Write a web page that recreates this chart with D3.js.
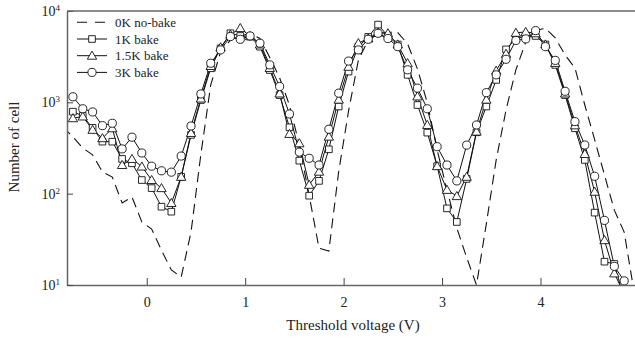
<!DOCTYPE html>
<html><head><meta charset="utf-8">
<script src="https://cdn.jsdelivr.net/npm/d3@7"></script>
<style>body{margin:0;background:#fff}svg{display:block}text{font-family:"Liberation Serif","Times New Roman",serif;fill:#222}</style>
</head><body><svg id="c" width="635" height="345"></svg>
<script>
// threshold voltage grid (V) for measured series
const voltage = [-0.75,-0.65,-0.55,-0.45,-0.35,-0.25,-0.15,-0.05,0.05,0.15,0.25,0.35,0.45,0.55,0.65,0.75,0.85,0.95,1.05,1.15,1.25,1.35,1.45,1.55,1.65,1.75,1.85,1.95,2.05,2.15,2.25,2.35,2.45,2.55,2.65,2.75,2.85,2.95,3.05,3.15,3.25,3.35,3.45,3.55,3.65,3.75,3.85,3.95,4.05,4.15,4.25,4.35,4.45,4.55,4.65,4.75,4.85];
// dashed series uses its own grid (extends slightly past both axes)
const voltage0K = [-0.85,-0.75,-0.65,-0.55,-0.45,-0.35,-0.25,-0.15,-0.05,0.05,0.15,0.25,0.35,0.45,0.55,0.65,0.75,0.85,0.95,1.05,1.15,1.25,1.35,1.45,1.55,1.65,1.75,1.85,1.95,2.05,2.15,2.25,2.35,2.45,2.55,2.65,2.75,2.85,2.95,3.05,3.15,3.25,3.35,3.45,3.55,3.65,3.75,3.85,3.95,4.05,4.15,4.25,4.35,4.45,4.55,4.65,4.75,4.85,4.95];
const cells0K = [537,418,316,266,173,152,79,92,49,41,24,14.6,12.2,38,270,1550,3550,4800,5300,5700,5000,3100,1850,930,340,96,25.3,23.6,175,800,2900,4800,5600,5900,5800,4370,2320,990,301,110,42,20,10,47,234,826,2270,4560,6150,6450,5070,3300,2380,935,390,160,66,38,8.5];
const cells1K = [790,710,525,371,371,240,215,141,115,72,63.5,153,440,1060,2360,3900,5710,5330,5250,4070,2260,1200,533,230,95,138,306,900,2170,4070,5200,7100,5300,4300,2000,935,466,200,69,49,145,470,900,1760,3800,5000,5300,5330,4300,2570,1200,520,234,62,18,17,7];
const cells15K = [670,700,500,405,520,206,240,198,141,115,79,153,462,1100,2500,4000,5500,6500,5300,4300,2380,1250,451,356,125,174,421,1070,2450,4440,5000,5800,5700,4300,2680,1160,565,200,110,94,153,478,1070,2220,3400,5770,5900,5700,4300,2700,1250,560,272,105,31,13.4,8];
const cells3K = [1150,850,785,556,590,309,415,279,200,178,172,258,550,1236,2680,3750,5250,4900,5330,4440,2570,1490,746,285,244,206,507,1260,2830,3750,4900,5700,5000,4070,2270,1430,850,327,206,138,340,565,1277,2000,2960,4760,4950,6100,4070,2880,1320,615,341,155,51,16,11.1];
const seriesNames = ["0K no-bake","1K bake","1.5K bake","3K bake"];
const xTicks = [0,1,2,3,4];
const yTicks = [10,100,1000,10000];
const yTickExp = ["1","2","3","4"];

const svg = d3.select("#c");
const L = 67, R = 635, T = 11, B = 285;
const x = d3.scaleLinear().domain([-0.81, 4.96]).range([L, R]);
const y = d3.scaleLog().domain([10, 10000]).range([B, T]);

svg.append("defs").append("clipPath").attr("id","plot")
  .append("rect").attr("x",L).attr("y",T).attr("width",R-L).attr("height",B-T);

const line = d3.line().x(d=>x(d[0])).y(d=>y(d[1]));
const g = svg.append("g").attr("clip-path","url(#plot)");

const series = [
  {name: seriesNames[0], xs: voltage0K, ys: cells0K, marker: null, dash: "10,6"},
  {name: seriesNames[1], xs: voltage, ys: cells1K, marker: "square"},
  {name: seriesNames[2], xs: voltage, ys: cells15K, marker: "triangle"},
  {name: seriesNames[3], xs: voltage, ys: cells3K, marker: "circle"}
];
const sym = {square: d3.symbol(d3.symbolSquare, 44), triangle: d3.symbol(d3.symbolTriangle, 38), circle: d3.symbol(d3.symbolCircle, 52)};

series.forEach(s => {
  const pts = s.xs.map((v,i)=>[v, s.ys[i]]);
  g.append("path").attr("d", line(pts)).attr("fill","none").attr("stroke","#111")
    .attr("stroke-width", s.dash ? 1.1 : 1).attr("stroke-dasharray", s.dash || null);
});
series.forEach(s => {
  if (!s.marker) return;
  const pts = s.xs.map((v,i)=>[v, s.ys[i]]);
  g.selectAll(null).data(pts).enter().append("path")
    .attr("d", sym[s.marker]())
    .attr("transform", d=>`translate(${x(d[0])},${y(d[1]) + (s.marker==="triangle"?0.8:0)})`)
    .attr("fill","#fff").attr("stroke","#111").attr("stroke-width",0.9);
});

// axes
const axCol = "#666";
const xa = svg.append("g").attr("transform",`translate(0,${B})`)
  .call(d3.axisBottom(x).tickValues(xTicks).tickSizeInner(-7).tickSizeOuter(0).tickPadding(12).tickFormat(d3.format("d")));
const ya = svg.append("g").attr("transform",`translate(${L},0)`)
  .call(d3.axisLeft(y).tickValues(yTicks).tickSizeInner(-6).tickSizeOuter(0).tickPadding(7).tickFormat(()=>""));
[xa, ya].forEach(a => {
  a.select(".domain").attr("stroke",axCol).attr("stroke-width",1.5);
  a.selectAll(".tick line").attr("stroke","#444").attr("stroke-width",1);
  a.selectAll("text").attr("font-size",14).attr("fill","#222").attr("font-family","Liberation Serif, serif");
});
ya.selectAll(".tick text").each(function(d,i){
  const t = d3.select(this);
  t.append("tspan").text("10");
  t.append("tspan").text(yTickExp[i]).attr("font-size",9).attr("dy","-0.55em");
});
// top border
svg.append("line").attr("x1",L).attr("x2",R).attr("y1",T).attr("y2",T).attr("stroke",axCol).attr("stroke-width",1.5);

// axis titles
svg.append("text").attr("x",353).attr("y",330).attr("text-anchor","middle").attr("font-size",15).text("Threshold voltage (V)");
svg.append("text").attr("transform","translate(19,147) rotate(-90)").attr("text-anchor","middle").attr("font-size",15).text("Number of cell");

// legend
const lg = svg.append("g");
series.forEach((s,i) => {
  const yy = 22.3 + i*16.7;
  lg.append("line").attr("x1",77).attr("x2",107).attr("y1",yy).attr("y2",yy)
    .attr("stroke","#111").attr("stroke-width", s.dash?1.1:1).attr("stroke-dasharray", s.dash ? "10,8" : null);
  if (s.marker) lg.append("path").attr("d", sym[s.marker]()).attr("transform",`translate(92,${yy + (s.marker==="triangle"?0.8:0)})`)
    .attr("fill","#fff").attr("stroke","#111").attr("stroke-width",0.9);
  lg.append("text").attr("x",115).attr("y",yy).attr("dy","0.35em").attr("font-size",13).text(s.name);
});
</script></body></html>
